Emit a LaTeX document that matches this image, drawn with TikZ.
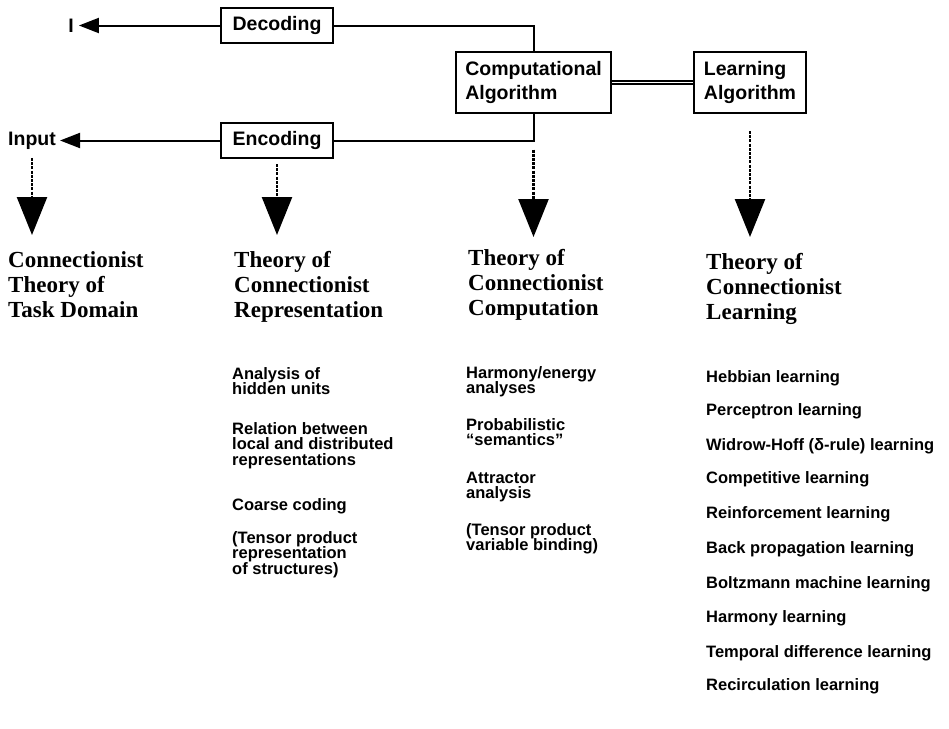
\documentclass[tikz,border=0pt]{standalone}
\usepackage{fontspec}
\setmainfont{Liberation Sans}
\newfontfamily\dgSerif{Liberation Serif}
\usetikzlibrary{arrows.meta}
\newcommand\dgBox{\fontsize{19.5}{24}\selectfont\bfseries}
\newcommand\dgHead{\dgSerif\fontsize{23}{25}\selectfont\bfseries\lineskiplimit=-20pt}
\newcommand\dgItem{\fontsize{16.5}{15.5}\selectfont\bfseries\lineskiplimit=-20pt}
\begin{document}
\begin{tikzpicture}[x=1pt,y=-1pt,
  lw/.style={line width=2pt},
  box/.style={draw, line width=2pt, inner sep=0pt, align=left, font=\dgBox},
  hd/.style={anchor=base west, inner sep=0pt, align=left, font=\dgHead},
  item/.style={anchor=base west, inner sep=0pt, align=left, font=\dgItem},
  harr/.style={line width=2pt, -{Triangle[length=20pt,width=15pt]}},
  varr/.style={line width=2.4pt, dash pattern=on 3pt off 1.2pt, -{Triangle[length=38pt,width=30pt]}}
]
\useasboundingbox (0,0) rectangle (949,728);

% boxes
\node[box, minimum width=112pt, minimum height=35pt] (dec) at (277,25.5) {Decoding};
\node[box, minimum width=112pt, minimum height=35pt] (enc) at (277,140.5) {Encoding};
\node[box, minimum width=155pt, minimum height=61pt] (comp) at (533.5,82.5) {Computational\\Algorithm};
\node[box, minimum width=112pt, minimum height=61pt] (learn) at (750,82.5) {Learning\\Algorithm};

% end labels
\node[font=\dgBox, inner sep=5pt] (outp) at (71,25.5) {I};
\node[font=\dgBox, inner sep=4pt] (inp) at (32,141) {Input};

% connectors
\draw[harr] (dec.west) -- (dec.west -| outp.east);
\draw[harr] (enc.west) -- (enc.west -| inp.east);
\draw[lw] (dec.east) -| (comp.north);
\draw[lw] (enc.east) -| (comp.south);
\draw[line width=1.4pt, double, double distance=1.8pt] (comp.east) -- (learn.west);

% vertical arrows
\coordinate (t1) at (32,235);
\coordinate (t2) at (277,235);
\coordinate (j3) at (comp.south |- enc.east);
\coordinate (t3) at (533.5,237);
\coordinate (t4) at (750,237);
\draw[varr, shorten <=4pt] (inp.south) -- (t1);
\draw[varr, shorten <=5pt] (enc.south) -- (t2);
\draw[varr, shorten <=9pt] (j3) -- (t3);
\draw[varr, shorten <=17pt] (learn.south) -- (t4);

% headings (anchored at the baseline of their last line)
\node[hd] (h1) at (8,317) {Connectionist\\Theory of\\Task Domain};
\node[hd] (h2) at (234,317) {Theory of\\Connectionist\\Representation};
\node[hd] (h3) at (468,315) {Theory of\\Connectionist\\Computation};
\node[hd] (h4) at (706,319) {Theory of\\Connectionist\\Learning};

% representation items
\node[item] (r1) at (232,394.5) {Analysis of\\hidden units};
\node[item] (r2) at (232,465) {Relation between\\local and distributed\\representations};
\node[item] (r3) at (232,510) {Coarse coding};
\node[item] (r4) at (232,574) {(Tensor product\\representation\\of structures)};

% computation items
\node[item] (c1) at (466,393.5) {Harmony/energy\\analyses};
\node[item] (c2) at (466,445.5) {Probabilistic\\“semantics”};
\node[item] (c3) at (466,498.5) {Attractor\\analysis};
\node[item] (c4) at (466,550.5) {(Tensor product\\variable binding)};

% learning items
\node[item] (l1) at (706,382) {Hebbian learning};
\node[item] (l2) at (706,415) {Perceptron learning};
\node[item] (l3) at (706,450) {Widrow-Hoff (δ-rule) learning};
\node[item] (l4) at (706,483) {Competitive learning};
\node[item] (l5) at (706,518) {Reinforcement learning};
\node[item] (l6) at (706,553) {Back propagation learning};
\node[item] (l7) at (706,588) {Boltzmann machine learning};
\node[item] (l8) at (706,622) {Harmony learning};
\node[item] (l9) at (706,657) {Temporal difference learning};
\node[item] (l10) at (706,690) {Recirculation learning};
\end{tikzpicture}
\end{document}
